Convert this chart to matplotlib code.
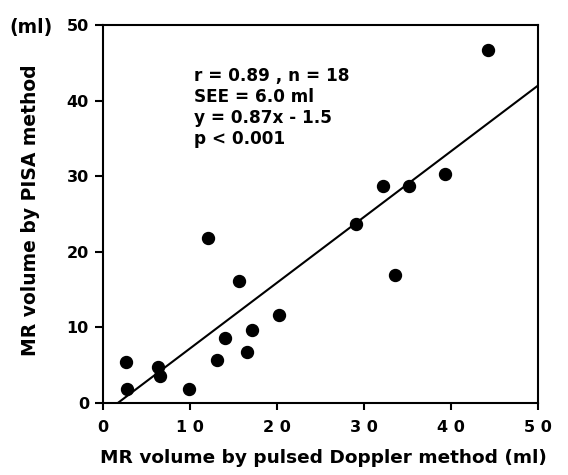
""" MR volume: PISA vs pulsed Doppler
"""
import matplotlib.pyplot as plt
import numpy as np

# data
doppler = [44.3, 32.2, 35.2, 39.3, 29.1, 33.6, 12.1, 15.6, 20.2,
           17.1, 14.0, 16.6, 13.1, 2.7, 6.4, 6.6, 2.8, 9.9]
pisa = [46.7, 28.7, 28.7, 30.3, 23.7, 17.0, 21.8, 16.1, 11.6,
        9.7, 8.6, 6.8, 5.7, 5.4, 4.7, 3.6, 1.9, 1.8]
slope, intercept = 0.87, -1.5
stats_text = 'r = 0.89 , n = 18\nSEE = 6.0 ml\ny = 0.87x - 1.5\np < 0.001'
ticks = [0, 10, 20, 30, 40, 50]

plt.rcParams['font.family'] = ['DejaVu Sans']
plt.rcParams['font.weight'] = 'bold'

fig = plt.figure(figsize=(5.68, 4.75), dpi=100)
ax = fig.add_axes([0.181, 0.1516, 0.766, 0.7954])

# regression line, starting where it crosses y = 0
x_fit = np.array([-intercept / slope, 50])
ax.plot(x_fit, slope * x_fit + intercept, color='black', lw=1.5)
ax.plot(doppler, pisa, 'o', color='black', markersize=8.6)

ax.set_xlim(0, 50)
ax.set_ylim(0, 50)
ax.set_xticks(ticks)
ax.set_yticks(ticks)
ax.set_xticklabels([' '.join(str(t)) for t in ticks], fontsize=11.5, fontweight='bold')
ax.set_yticklabels([str(t) for t in ticks], fontsize=11.5, fontweight='bold')
ax.tick_params(axis='x', direction='out', length=5, width=1.5, pad=7)
ax.tick_params(axis='y', direction='out', length=6, width=1.5, pad=4)
for sp in ax.spines.values():
    sp.set_linewidth(1.5)

ax.text(10.5, 44.5, stats_text, fontsize=12.2, fontweight='bold',
        va='top', ha='left', linespacing=1.22)

fig.text(0.57, 0.035, 'MR volume by pulsed Doppler method (ml)',
         ha='center', va='center', fontsize=13.3, fontweight='bold')
fig.text(0.054, 0.557, 'MR volume by PISA method', rotation=90,
         ha='center', va='center', fontsize=13.5, fontweight='bold')
fig.text(0.017, 0.943, '(ml)', ha='left', va='center', fontsize=13.5, fontweight='bold')

fig.savefig('out.png', dpi=100)
